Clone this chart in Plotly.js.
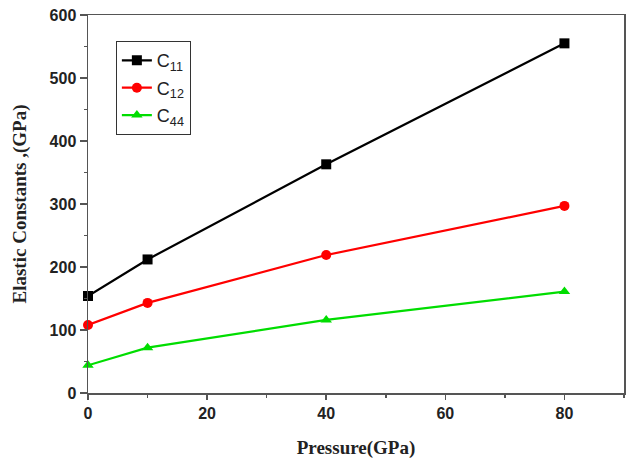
<!DOCTYPE html>
<html>
<head>
<meta charset="utf-8">
<script src="https://cdn.plot.ly/plotly-3.0.1.min.js"></script>
<style>html,body{margin:0;padding:0;background:#fff;}#chart{width:629px;height:459px;}</style>
</head>
<body>
<div id="chart"></div>
<script>
const pressure = [0, 10, 40, 80];
const c11 = [154, 212, 363, 555];
const c12 = [108, 143, 219, 297];
const c44 = [44, 72, 116, 161];
const seriesNames = ['C<sub>11</sub>', 'C<sub>12</sub>', 'C<sub>44</sub>'];
const xTicks = [0, 20, 40, 60, 80];
const yTicks = [0, 100, 200, 300, 400, 500, 600];

const colors = ['#000000', '#ff0000', '#00dd00'];
const symbols = ['square', 'circle', 'triangle-up'];
const ys = [c11, c12, c44];

const traces = ys.map((y, i) => ({
  x: pressure, y: y, type: 'scatter', mode: 'lines+markers',
  name: seriesNames[i], legendgroup: 'g' + i,
  line: {color: colors[i], width: 2.2},
  marker: {symbol: symbols[i], size: 10, color: colors[i]},
  cliponaxis: false
}));

const tickFont = {family: 'Liberation Sans, Arial, sans-serif', size: 16, color: '#222', weight: 'bold'};
const titleFont = {family: 'Liberation Serif, Times New Roman, serif', size: 19, color: '#222', weight: 'bold'};

const layout = {
  width: 629, height: 459,
  margin: {l: 88, r: 5, t: 15, b: 66},
  paper_bgcolor: '#fff', plot_bgcolor: '#fff',
  showlegend: true,
  legend: {
    x: 0.052, y: 0.931, xanchor: 'left', yanchor: 'top',
    bgcolor: '#fff', bordercolor: '#333', borderwidth: 1,
    font: {family: 'Liberation Sans, Arial, sans-serif', size: 18, color: '#222'},
    traceorder: 'grouped', tracegroupgap: 1
  },
  xaxis: {
    range: [0, 90], tickvals: xTicks, ticktext: xTicks.map(String),
    showgrid: false, zeroline: false,
    showline: true, linecolor: '#555', linewidth: 1.5, mirror: true,
    ticks: 'outside', ticklen: 5, tickwidth: 1.5, tickcolor: '#555',
    minor: {dtick: 10, tick0: 0, ticks: 'outside', ticklen: 3, tickwidth: 1.5, tickcolor: '#555', showgrid: false},
    tickfont: tickFont,
    title: {text: 'Pressure(GPa)', font: titleFont, standoff: 21},
    automargin: false
  },
  yaxis: {
    range: [0, 600], tickvals: yTicks, ticktext: yTicks.map(String),
    showgrid: false, zeroline: false,
    showline: true, linecolor: '#555', linewidth: 1.5, mirror: true,
    ticks: 'outside', ticklen: 7, tickwidth: 1.5, tickcolor: '#555',
    minor: {dtick: 50, tick0: 0, ticks: 'outside', ticklen: 3, tickwidth: 1.5, tickcolor: '#555', showgrid: false},
    tickfont: tickFont,
    title: {text: 'Elastic Constants ,(GPa)', font: titleFont, standoff: 18},
    automargin: false
  }
};

Plotly.newPlot('chart', traces, layout, {displayModeBar: false, staticPlot: true});
</script>
</body>
</html>
